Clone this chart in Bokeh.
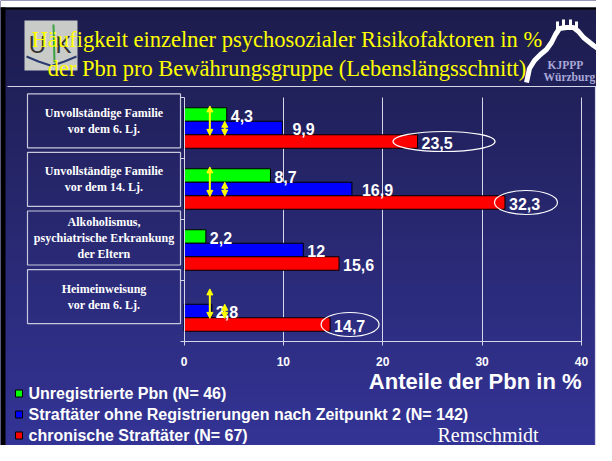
import numpy as np
from bokeh.plotting import figure
from bokeh.models import (Range1d, LinearAxis, FixedTicker, Grid, ColumnDataSource,
                          Arrow, NormalHead, CustomJSTickFormatter)
from bokeh.transform import dodge
from bokeh.core.properties import value
from bokeh.embed import file_html
from bokeh.resources import INLINE

# ---------------- data ----------------
categories = ["Unvollständige Familie\nvor dem 6. Lj.",
              "Unvollständige Familie\nvor dem 14. Lj.",
              "Alkoholismus,\npsychiatrische Erkrankung\nder Eltern",
              "Heimeinweisung\nvor dem 6. Lj."]
series_names = ["Unregistrierte Pbn (N= 46)",
                "Straftäter ohne Registrierungen nach Zeitpunkt 2 (N= 142)",
                "chronische Straftäter (N= 67)"]
unregistrierte = [4.3, 8.7, 2.2, None]
straftaeter_ohne_reg = [9.9, 16.9, 12, 2.8]
chronische = [23.5, 32.3, 15.6, 14.7]
x_ticks = [0, 10, 20, 30, 40]
x_title = "Anteile der Pbn in %"
title_lines = ["Häufigkeit einzelner psychosozialer Risikofaktoren in %",
               "der Pbn pro Bewährungsgruppe (Lebenslängsschnitt)"]
highlighted = [(0, 2), (1, 2), (3, 2)]      # circled values: (category, series)
compared = [0, 1, 3]                         # categories with comparison arrows
source_note = "Remschmidt"
logo_lines = ["KJPPP", "Würzburg"]

# ---------------- style / layout ----------------
COLORS = ["#00ff00", "#0000ff", "#ff0000"]
LINE = "#d6d6ea"
YELLOW = "#ffff00"
W, H = 596, 445
X0_PX, PX_PER_UNIT = 183.5, 9.9375
CAT0_PX, ROW_PX = 127.5, 61.0
BAR = 13.5 / ROW_PX
SANS = "Liberation Sans"
SERIF = "Liberation Serif"
LABEL_GAP = 4
LABEL_NUDGE = {(0, 1): 6, (1, 1): 6}   # labels moved a little further right

p = figure(width=W, height=H, output_backend="svg", toolbar_location=None,
           x_range=Range1d(-X0_PX / PX_PER_UNIT, (W - X0_PX) / PX_PER_UNIT),
           y_range=Range1d((H - CAT0_PX) / ROW_PX, -CAT0_PX / ROW_PX),
           x_axis_type=None, y_axis_type=None, min_border=0)
p.min_border_left = p.min_border_right = p.min_border_top = p.min_border_bottom = 0
p.outline_line_color = None
p.background_fill_color = "#2a2a78"
p.border_fill_color = "#2a2a78"
p.extra_x_ranges = {"px": Range1d(0, W)}
p.extra_y_ranges = {"px": Range1d(H, 0)}
PX = dict(x_range_name="px", y_range_name="px")

# background gradient
n = 200
t = np.linspace(0, 1, n)[:, None]
top = np.array([0x1c, 0x1c, 0x4c], dtype=float)
bot = np.array([0x34, 0x34, 0x96], dtype=float)
rgb = (top + (bot - top) * t).astype(np.uint8)
img = np.zeros((n, 1), dtype=np.uint32)
v = img.view(dtype=np.uint8).reshape((n, 1, 4))
v[:, 0, 0] = rgb[:, 0]
v[:, 0, 1] = rgb[:, 1]
v[:, 0, 2] = rgb[:, 2]
v[:, 0, 3] = 255
p.image_rgba(image=[img], x=0, y=0, dw=W, dh=H, level="image", **PX)

# slide edges and chart-area frame
p.quad(left=[0, 0], right=[W, 5], top=[0, 7], bottom=[7, H], fill_color=["white", "black"],
       line_color=None, **PX)
p.line([0, W], [8, 8], line_color="black", line_width=2, **PX)
p.line([7, 595, 595], [86, 86, 470], line_color=LINE, line_width=1.2, **PX)

# ---------------- axes & grid ----------------
ncat = len(categories)
boundaries = [i - 0.5 for i in range(ncat + 1)]
xaxis = LinearAxis(fixed_location=boundaries[-1], ticker=FixedTicker(ticks=x_ticks),
                   bounds=(x_ticks[0], x_ticks[-1]),
                   major_tick_in=4, major_tick_out=4, major_label_standoff=11,
                   axis_line_color=LINE, major_tick_line_color=LINE, minor_tick_line_color=None,
                   major_label_text_color="white", major_label_text_font=SANS,
                   major_label_text_font_style="bold", major_label_text_font_size="12px")
p.add_layout(xaxis, "below")
yaxis = LinearAxis(fixed_location=0, ticker=FixedTicker(ticks=boundaries),
                   bounds=(boundaries[0], boundaries[-1]),
                   formatter=CustomJSTickFormatter(code="return ''"),
                   major_tick_in=0, major_tick_out=4,
                   axis_line_color=LINE, major_tick_line_color=LINE, minor_tick_line_color=None)
p.add_layout(yaxis, "left")

if "cross_bounds" in Grid.properties():
    grid = Grid(dimension=0, ticker=FixedTicker(ticks=x_ticks[1:]),
                grid_line_color=LINE, grid_line_width=1,
                cross_bounds=(boundaries[0], boundaries[-1]))
    p.add_layout(grid)
else:
    p.segment(x0=x_ticks[1:], x1=x_ticks[1:], y0=boundaries[0], y1=boundaries[-1],
              line_color=LINE, line_width=1, level="underlay")

# ---------------- bars ----------------
series = [np.array(unregistrierte, dtype=float),
          np.array(straftaeter_ohne_reg, dtype=float),
          np.array(chronische, dtype=float)]


def fmt(x):
    return "" if np.isnan(x) else f"{x:g}".replace(".", ",")


data = dict(idx=list(range(ncat)))
for j, s in enumerate(series):
    data[f"v{j}"] = s
    data[f"l{j}"] = [fmt(x) for x in s]
    data[f"o{j}"] = [LABEL_GAP + LABEL_NUDGE.get((i, j), 0) for i in range(ncat)]
src = ColumnDataSource(data)

for j in range(3):
    yd = dodge("idx", (j - 1) * BAR, range=p.y_range)
    p.hbar(y=yd, left=0, right=f"v{j}", height=BAR, source=src,
           fill_color=COLORS[j], line_color="black", line_width=1)

for j in range(3):
    yd = dodge("idx", (j - 1) * BAR, range=p.y_range)
    p.text(x=f"v{j}", y=yd, text=f"l{j}", source=src, x_offset=f"o{j}", y_offset=1,
           text_align="left", text_baseline="middle", text_color="white",
           text_font=value(SANS), text_font_style="bold", text_font_size="16px")

# circled values
ell_w = [102, 63, 58]
ell_h = [20, 24, 24]
ell_dx = [26.5, 21, 20]
ex = [series[j][i] + ell_dx[k] / PX_PER_UNIT for k, (i, j) in enumerate(highlighted)]
ey = [i + (j - 1) * BAR for (i, j) in highlighted]
p.ellipse(x=ex, y=ey, width=ell_w, height=ell_h, width_units="screen", height_units="screen",
          fill_color=None, line_color="white", line_width=1.2)

# comparison arrows
ARROW_X = (2.6, 4.1)
ax, ay0, ay1 = [], [], []
for i in compared:
    ax += [ARROW_X[0], ARROW_X[1]]
    ay0 += [i - 1.5 * BAR - 0.03, i - 0.5 * BAR]
    ay1 += [i + 0.5 * BAR + 0.01, i + 0.5 * BAR + 0.01]
asrc = ColumnDataSource(dict(x=ax, y0=ay0, y1=ay1))
p.add_layout(Arrow(source=asrc, x_start="x", y_start="y0", x_end="x", y_end="y1",
                   line_color=YELLOW, line_width=2,
                   start=NormalHead(size=6, fill_color=YELLOW, line_color=YELLOW),
                   end=NormalHead(size=6, fill_color=YELLOW, line_color=YELLOW)))

# ---------------- category boxes ----------------
box_y = [120.3 + 58.6 * i for i in range(ncat)]
p.rect(x=[103.5] * ncat, y=box_y, width=153, height=54, fill_color=None,
       line_color="#c8c8dc", line_width=1.2, **PX)
p.text(x=[103.5] * ncat, y=box_y, text=categories, text_align="center",
       text_baseline="middle", text_color="white", text_font=value(SERIF),
       text_font_style="bold", text_font_size="12px", text_line_height=1.15, **PX)

# axis title
p.text(x=[581], y=[381], text=[x_title], text_align="right", text_baseline="middle",
       text_color="white", text_font=value(SANS), text_font_style="bold",
       text_font_size="22px", **PX)

# legend
leg_y = [393, 414, 435]
p.rect(x=[18.5] * 3, y=leg_y, width=7, height=7, fill_color=COLORS, line_color="black",
       line_width=1, **PX)
p.text(x=[28] * 3, y=leg_y, text=series_names, text_align="left", text_baseline="middle",
       text_color="white", text_font=value(SANS), text_font_style="bold",
       text_font_size="16px", **PX)

p.text(x=[437], y=[434], text=[source_note], text_align="left", text_baseline="middle",
       text_color="white", text_font=value(SERIF), text_font_size="20px", **PX)

# ---------------- logos ----------------
p.rect(x=[50.5], y=[45], width=53, height=50, fill_color="#c9cbc9", line_color=None, **PX)
p.text(x=[37, 63], y=[44, 44], text=["U", "K"], text_align="center", text_baseline="middle",
       text_color="#333333", text_font=value(SANS), text_font_size="24px", **PX)
p.line([53, 54], [24, 62], line_color="#3aa040", line_width=2, **PX)
p.line([26, 38, 50], [56, 61, 65], line_color="#2a3a70", line_width=2, **PX)
p.line([52, 64, 76], [65, 61, 56], line_color="#2a3a70", line_width=2, **PX)

p.line([526, 529, 534, 540, 546, 551, 555, 559, 566, 573, 578, 583, 588, 593, 600],
       [82, 68, 60, 54, 49, 42, 34, 28, 27, 27, 31, 37, 41, 45, 50],
       line_color="white", line_width=5, **PX)
p.rect(x=[557, 563, 570, 576], y=[25, 23, 23, 25], width=3, height=8,
       fill_color="white", line_color=None, **PX)

p.text(x=[547, 543], y=[64, 76.5], text=logo_lines, text_align="left",
       text_baseline="alphabetic", text_color="#a8a8d8", text_font=value(SERIF),
       text_font_style="bold", text_font_size="11.5px", **PX)

# title
p.text(x=[286.5, 286.5], y=[38.5, 68], text=title_lines, text_align="center",
       text_baseline="alphabetic", text_color=YELLOW, text_font=value(SERIF),
       text_font_size="22.5px", **PX)

open("out.html", "w").write(file_html(p, INLINE))
